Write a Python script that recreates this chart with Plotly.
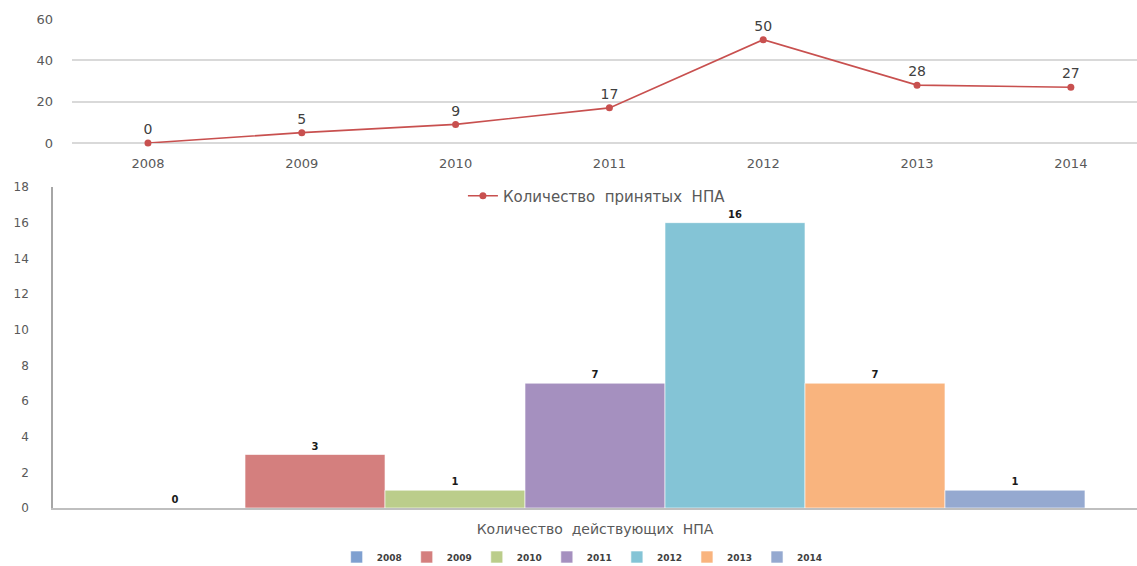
import plotly.graph_objects as go

years = ["2008", "2009", "2010", "2011", "2012", "2013", "2014"]
adopted = [0, 5, 9, 17, 50, 28, 27]
active = [0, 3, 1, 7, 16, 7, 1]
bar_colors = ["#7FA0D0", "#D47F7E", "#BBCD8B", "#A590BF", "#84C4D6", "#F9B47E", "#95A9D0"]
line_name = "Количество  принятых  НПА"
bar_category = "Количество  действующих  НПА"

W, H = 1137, 566
FONT = "DejaVu Sans"

fig = go.Figure()

fig.add_trace(go.Scatter(
    x=years, y=adopted, mode="lines+markers+text",
    name=line_name,
    line=dict(color="#C8504F", width=1.6),
    marker=dict(color="#C8504F", size=7),
    text=[str(v) for v in adopted], textposition="top center",
    textfont=dict(family=FONT, size=14, color="#404040"),
    cliponaxis=False,
    xaxis="x", yaxis="y", legend="legend2",
))

for yr, val, col in zip(years, active, bar_colors):
    fig.add_trace(go.Bar(
        x=[bar_category], y=[val], name=yr,
        marker=dict(color=col, line=dict(color="rgba(255,255,255,0.6)", width=1)),
        text=[str(val)], textposition="outside",
        textfont=dict(family=FONT, size=10, color="#1a1a1a", weight="bold"),
        cliponaxis=False,
        xaxis="x2", yaxis="y2", legend="legend",
    ))

def px_x(p):
    return p / W

def px_y(p):
    return 1 - p / H

fig.update_layout(
    width=W, height=H,
    margin=dict(l=0, r=0, t=0, b=0, autoexpand=False),
    paper_bgcolor="white", plot_bgcolor="white",
    font=dict(family=FONT, color="#595959"),
    barmode="group", bargap=0.096, bargroupgap=0,
    showlegend=True,
    xaxis=dict(
        domain=[px_x(72), 1], range=[-0.494, 6.43], type="category",
        showgrid=False, showline=False, zeroline=False, ticks="",
        ticklabelstandoff=11, automargin=False,
        tickfont=dict(size=13, color="#595959"), anchor="y",
    ),
    yaxis=dict(
        domain=[px_y(143), px_y(19)], range=[0, 60], dtick=20,
        showgrid=True, gridcolor="#D9D9D9", gridwidth=1.5,
        zeroline=True, zerolinecolor="#D9D9D9", zerolinewidth=1.5,
        showline=False, ticks="", ticklabelstandoff=18, automargin=False,
        tickfont=dict(size=13, color="#595959"), anchor="x",
    ),
    xaxis2=dict(
        domain=[px_x(53), 1], type="category",
        showgrid=False, showline=True, linecolor="#BFBFBF", linewidth=2,
        ticks="", ticklabelstandoff=7, automargin=False,
        tickfont=dict(size=14, color="#595959"), anchor="y2",
    ),
    yaxis2=dict(
        domain=[px_y(508), px_y(187)], range=[0, 18], dtick=2,
        showgrid=False, zeroline=False,
        showline=True, linecolor="#A6A6A6", linewidth=1.5,
        ticks="", ticklabelstandoff=20, automargin=False,
        tickfont=dict(size=12, color="#595959"), anchor="x2",
    ),
    legend=dict(
        orientation="h", x=0.512, xanchor="center", y=px_y(557), yanchor="middle",
        font=dict(size=9, color="#404040", weight="bold"),
        itemwidth=30, tracegroupgap=0, bgcolor="rgba(0,0,0,0)",
    ),
    legend2=dict(
        orientation="h", x=0.525, xanchor="center", y=px_y(196), yanchor="middle",
        font=dict(size=15, color="#595959"), bgcolor="rgba(0,0,0,0)",
    ),
)

fig.write_html("out.html")
